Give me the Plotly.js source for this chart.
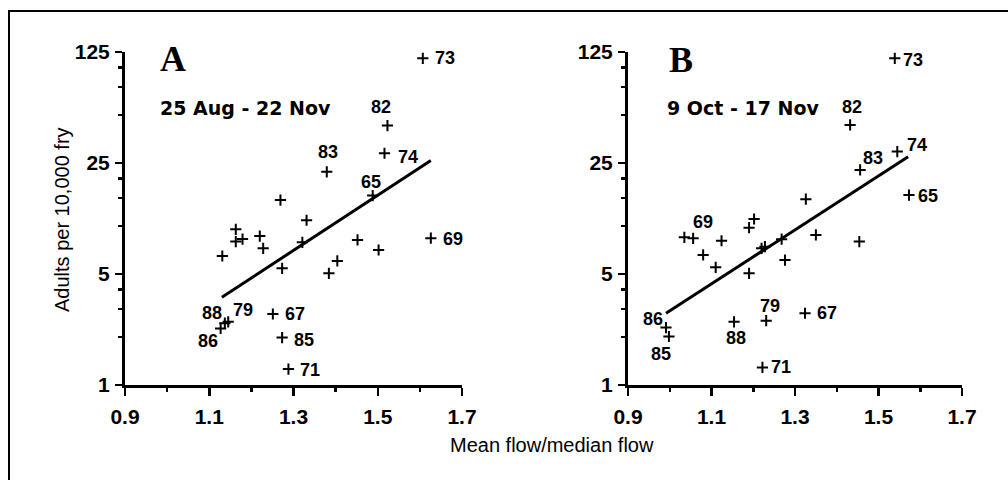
<!DOCTYPE html>
<html>
<head>
<meta charset="utf-8">
<script src="https://cdn.plot.ly/plotly-3.0.1.min.js"></script>
<style>
  html, body { margin: 0; padding: 0; background: #fff; }
  #wrap { position: relative; width: 1008px; height: 480px; overflow: hidden; }
  #chart { position: absolute; left: 0; top: 0; width: 1008px; height: 480px; }
  #frame { position: absolute; left: 8px; top: 10px; width: 1100px; height: 600px;
           border-top: 2px solid #000; border-left: 2px solid #000; pointer-events: none; }
</style>
</head>
<body>
<div id="wrap"><div id="chart"></div><div id="frame"></div></div>
<script>
// ---------- DATA ----------
// Panel A: 25 Aug - 22 Nov
const labelsA = ['65','67','69','71','73','74','79','82','83','85','86','88',
                 '','','','','','','','','','','','','',''];
const xA = [1.488, 1.251, 1.626, 1.288, 1.607, 1.516, 1.145, 1.523, 1.379, 1.273, 1.127, 1.137,
            1.269, 1.331, 1.163, 1.163, 1.179, 1.220, 1.228, 1.131, 1.321, 1.273, 1.452, 1.502, 1.404, 1.384];
const yA = [15.6, 2.8, 8.4, 1.26, 114, 28.8, 2.5, 43, 22, 1.99, 2.27, 2.45,
            14.6, 10.9, 9.56, 8.0, 8.3, 8.67, 7.26, 6.49, 7.92, 5.43, 8.19, 7.08, 6.04, 5.05];
const fitAx = [1.130, 1.626];
const fitAy = [3.57, 25.9];

// Panel B: 9 Oct - 17 Nov
const labelsB = ['65','67','69','71','73','74','79','82','83','85','86','88',
                 '','','','','','','','','','','','','',''];
const xB = [1.573, 1.324, 1.056, 1.222, 1.539, 1.545, 1.231, 1.432, 1.456, 0.998, 0.991, 1.154,
            1.326, 1.202, 1.190, 1.035, 1.124, 1.080, 1.110, 1.190, 1.220, 1.228, 1.268, 1.276, 1.350, 1.454];
const yB = [15.7, 2.83, 8.39, 1.29, 114, 29.5, 2.54, 43.4, 22.6, 2.02, 2.3, 2.5,
            14.8, 11.1, 9.79, 8.51, 8.1, 6.59, 5.51, 5.05, 7.26, 7.43, 8.28, 6.12, 8.81, 8.0];
const fitBx = [0.991, 1.571];
const fitBy = [2.83, 27.4];

const xTickVals = [0.9, 1.1, 1.3, 1.5, 1.7];
const xTickText = ['0.9', '1.1', '1.3', '1.5', '1.7'];
const xMinorVals = [1.0, 1.2, 1.4, 1.6];
const yTickVals = [1, 5, 25, 125];
const yTickText = ['1', '5', '25', '125'];
const yMinorVals = [2, 3, 4, 10, 15, 20, 50, 75, 100];

const panelLetters = ['A', 'B'];
const panelPeriods = ['25 Aug - 22 Nov', '9 Oct - 17 Nov'];
const xTitle = 'Mean flow/median flow';
const yTitle = 'Adults per 10,000 fry';

// ---------- STYLE / POSITIONS ----------
const labelOffA = {'73':[22,0],'82':[-6,-19],'74':[24,4],'83':[1,-20],'65':[-2,-14],'69':[22,1],
                   '88':[-13,-10],'79':[15,-12],'86':[-13,13],'67':[22,0],'85':[22,2],'71':[22,1]};
const labelOffB = {'73':[18,2],'82':[2,-18],'74':[20,-7],'83':[13,-12],'65':[19,1],'69':[10,-16],
                   '86':[-13,-9],'85':[-8,17],'88':[2,16],'79':[4,-15],'67':[22,0],'71':[19,0]};

const W = 1008, H = 480;
const tickFont = {family: 'Liberation Sans, Arial, sans-serif', size: 21, color: '#000', weight: 'bold'};
const labelFont = {family: 'Liberation Sans, Arial, sans-serif', size: 18, color: '#000', weight: 'bold'};

function markerTrace(x, y, xa, ya) {
  return {x: x, y: y, xaxis: xa, yaxis: ya, type: 'scatter', mode: 'markers',
          marker: {symbol: 'cross-thin-open', size: 8, color: '#000', line: {width: 2, color: '#000'}},
          hoverinfo: 'x+y', showlegend: false};
}
function fitTrace(x, y, xa, ya) {
  return {x: x, y: y, xaxis: xa, yaxis: ya, type: 'scatter', mode: 'lines',
          line: {color: '#000', width: 3}, hoverinfo: 'skip', showlegend: false};
}
function xAxis(domain, anchor) {
  return {domain: domain, anchor: anchor, range: [0.9, 1.7], showgrid: false, zeroline: false,
          showline: true, linewidth: 3, linecolor: '#000', mirror: false,
          tickmode: 'array', tickvals: xTickVals, ticktext: xTickText,
          ticks: 'outside', ticklen: 8, tickwidth: 2.5, tickcolor: '#000',
          minor: {tickmode: 'array', tickvals: xMinorVals, ticks: 'outside', ticklen: 4, tickwidth: 2.5, tickcolor: '#000', showgrid: false},
          tickfont: tickFont, ticklabelstandoff: 3, fixedrange: true};
}
function yAxis(domain, anchor) {
  return {domain: domain, anchor: anchor, type: 'log', range: [0, Math.log10(125)], showgrid: false, zeroline: false,
          showline: true, linewidth: 3, linecolor: '#000', mirror: false,
          tickmode: 'array', tickvals: yTickVals, ticktext: yTickText,
          ticks: 'outside', ticklen: 7, tickwidth: 2.5, tickcolor: '#000',
          minor: {tickmode: 'array', tickvals: yMinorVals, ticks: 'outside', ticklen: 4, tickwidth: 2.5, tickcolor: '#000', showgrid: false},
          tickfont: tickFont, ticklabelstandoff: 1, fixedrange: true};
}

function pointLabels(labels, x, y, offs, xr, yr) {
  const out = [];
  labels.forEach((lab, i) => {
    if (!lab) return;
    const o = offs[lab] || [0, -14];
    out.push({x: x[i], y: Math.log10(y[i]), xref: xr, yref: yr, text: lab, showarrow: false,
              xanchor: 'center', yanchor: 'middle', xshift: o[0], yshift: -o[1], font: labelFont});
  });
  return out;
}

const yDom = [1 - 385 / H, 1 - 52 / H];
const layout = {
  width: W, height: H, margin: {l: 0, r: 0, t: 0, b: 0},
  paper_bgcolor: '#fff', plot_bgcolor: 'rgba(0,0,0,0)', showlegend: false,
  xaxis: xAxis([125 / W, 462 / W], 'y'),
  yaxis: yAxis(yDom, 'x'),
  xaxis2: xAxis([628 / W, 962 / W], 'y2'),
  yaxis2: yAxis(yDom, 'x2'),
  annotations: [
    {xref: 'paper', yref: 'paper', x: 173 / W, y: 1 - 59 / H, text: panelLetters[0], showarrow: false,
     xanchor: 'center', yanchor: 'middle', font: {family: 'Liberation Serif, Times New Roman, serif', size: 36, color: '#000', weight: 'bold'}},
    {xref: 'paper', yref: 'paper', x: 681 / W, y: 1 - 60 / H, text: panelLetters[1], showarrow: false,
     xanchor: 'center', yanchor: 'middle', font: {family: 'Liberation Serif, Times New Roman, serif', size: 36, color: '#000', weight: 'bold'}},
    {xref: 'paper', yref: 'paper', x: 158 / W, y: 1 - 108 / H, text: panelPeriods[0], showarrow: false,
     xanchor: 'left', yanchor: 'middle', font: {family: 'DejaVu Sans, sans-serif', size: 19, color: '#000', weight: 'bold'}},
    {xref: 'paper', yref: 'paper', x: 665 / W, y: 1 - 108 / H, text: panelPeriods[1], showarrow: false,
     xanchor: 'left', yanchor: 'middle', font: {family: 'DejaVu Sans, sans-serif', size: 19, color: '#000', weight: 'bold'}},
    {xref: 'paper', yref: 'paper', x: 552 / W, y: 1 - 445 / H, text: xTitle, showarrow: false,
     xanchor: 'center', yanchor: 'middle', font: {family: 'Liberation Sans, Arial, sans-serif', size: 20, color: '#000'}},
    {xref: 'paper', yref: 'paper', x: 62 / W, y: 1 - 220 / H, text: yTitle, showarrow: false, textangle: -90,
     xanchor: 'center', yanchor: 'middle', font: {family: 'Liberation Sans, Arial, sans-serif', size: 20, color: '#000'}}
  ].concat(pointLabels(labelsA, xA, yA, labelOffA, 'x', 'y'))
   .concat(pointLabels(labelsB, xB, yB, labelOffB, 'x2', 'y2'))
};

const data = [
  fitTrace(fitAx, fitAy, 'x', 'y'),
  markerTrace(xA, yA, 'x', 'y'),
  fitTrace(fitBx, fitBy, 'x2', 'y2'),
  markerTrace(xB, yB, 'x2', 'y2')
];

Plotly.newPlot('chart', data, layout, {displayModeBar: false, staticPlot: true});
</script>
</body>
</html>
